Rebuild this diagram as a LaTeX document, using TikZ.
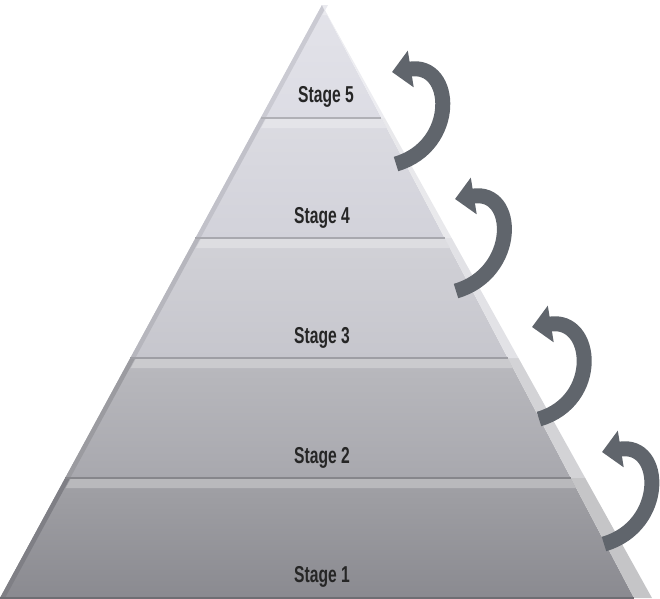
\documentclass[tikz,border=0pt]{standalone}
\usepackage{fontspec}
\setsansfont{Liberation Sans}
\usepackage{tikz}
\usetikzlibrary{arrows.meta,calc}

\definecolor{arrowgray}{RGB}{96,101,108}
\definecolor{stageA}{RGB}{138,138,144}
\definecolor{stageB}{RGB}{168,168,174}
\definecolor{stageC}{RGB}{198,198,205}
\definecolor{stageD}{RGB}{210,210,218}
\definecolor{stageE}{RGB}{220,220,228}

\begin{document}
\begin{tikzpicture}[x=1pt,y=-1pt,
    stage label/.style={font=\sffamily\bfseries\fontsize{23}{23}\selectfont,text=black!85,xscale=0.68},
    turn arrow/.style={draw=arrowgray,line width=15pt,-{Triangle[length=19pt,width=36pt]}}]

  \useasboundingbox (0,0) rectangle (660,598);
  \coordinate (apex) at (322,5);
  \coordinate (bl) at (0,598);
  \coordinate (fr) at (634,598);
  \coordinate (br) at (652,598);

  % layers, bottom to top
  \foreach \ta/\tb/\col in {0.7976/1/stageA,0.5953/0.7976/stageB,0.3929/0.5953/stageC,
                            0.1906/0.3929/stageD,0/0.1906/stageE} {
    \pgfmathsetmacro\tc{\ta+0.017}
    \shade[top color=\col!80!white,bottom color=\col]
      ($(apex)!\ta!(bl)$) -- ($(apex)!\ta!(fr)$) -- ($(apex)!\tb!(fr)$) -- ($(apex)!\tb!(bl)$) -- cycle;
    \fill[\col!92!black]
      ($(apex)!\ta!(bl)$) -- ($(apex)!\ta!(bl)+(5,0)$) -- ($(apex)!\tb!(bl)+(5,0)$) -- ($(apex)!\tb!(bl)$) -- cycle;
    \fill[\col!50!white]
      ($(apex)!\ta!(fr)$) -- ($(apex)!\ta!(br)$) -- ($(apex)!\tb!(br)$) -- ($(apex)!\tb!(fr)$) -- cycle;
    \fill[\col!60!white]
      ($(apex)!\ta!(bl)+(6,0)$) -- ($(apex)!\ta!(fr)$) -- ($(apex)!\tc!(fr)$) -- ($(apex)!\tc!(bl)+(6,0)$) -- cycle;
    \draw[\col!80!black,line width=1.2pt] ($(apex)!\tb!(bl)$) -- ($(apex)!\tb!(fr)$);
  }

  \node[stage label] (s5) at (326,97) {Stage 5};
  \node[stage label] (s4) at (322,218) {Stage 4};
  \node[stage label] (s3) at (322,338) {Stage 3};
  \node[stage label] (s2) at (322,458) {Stage 2};
  \node[stage label] (s1) at (322,577) {Stage 1};

  % turning arrows
  \coordinate (t1) at (396,164);  \coordinate (h1) at (392,72);
  \coordinate (t2) at (456,291);  \coordinate (h2) at (455,199);
  \coordinate (t3) at (539,419);  \coordinate (h3) at (532,327);
  \coordinate (t4) at (604,544);  \coordinate (h4) at (602,452);
  \foreach \i in {1,...,4}
    \draw[turn arrow] (t\i) .. controls +(62,-18) and +(62,-10) .. (h\i);
\end{tikzpicture}
\end{document}
